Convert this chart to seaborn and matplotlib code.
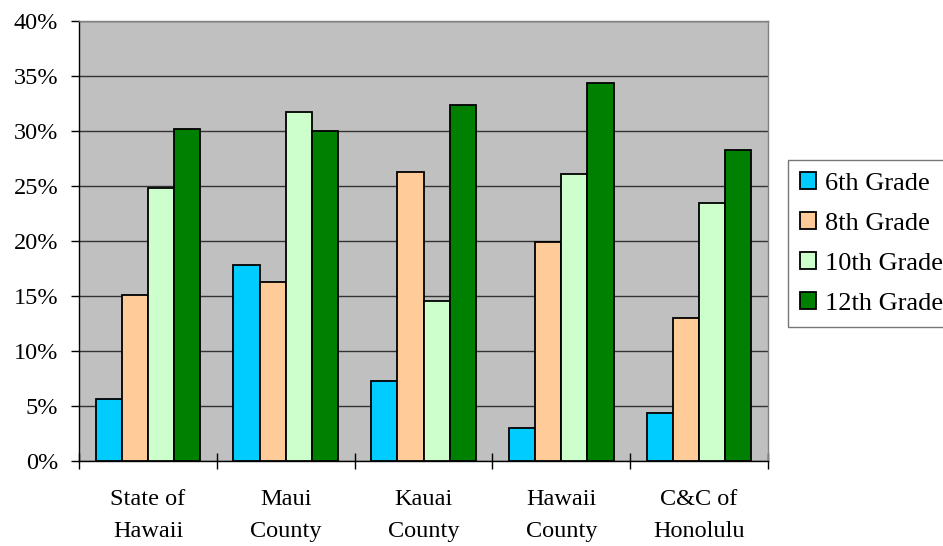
import matplotlib
matplotlib.use("Agg")
import matplotlib.pyplot as plt
from matplotlib.ticker import MultipleLocator, FuncFormatter, FixedLocator
import seaborn as sns
import pandas as pd

regions = ["State of\nHawaii", "Maui\nCounty", "Kauai\nCounty", "Hawaii\nCounty", "C&C of\nHonolulu"]
grades = ["6th Grade", "8th Grade", "10th Grade", "12th Grade"]
grade_6 = [5.7, 17.8, 7.3, 3.0, 4.4]
grade_8 = [15.1, 16.3, 26.3, 19.9, 13.0]
grade_10 = [24.8, 31.7, 14.6, 26.1, 23.5]
grade_12 = [30.2, 30.0, 32.4, 34.4, 28.3]
colors = ["#00CCFF", "#FFCC99", "#CCFFCC", "#008000"]

rows = []
for grade, vals in zip(grades, [grade_6, grade_8, grade_10, grade_12]):
    for region, v in zip(regions, vals):
        rows.append({"region": region, "grade": grade, "pct": v})
df = pd.DataFrame(rows)

sns.set_theme(style="white")
plt.rcParams["font.family"] = ["Liberation Serif", "DejaVu Serif"]
plt.rcParams["text.color"] = "black"

fig = plt.figure(figsize=(9.43, 5.46), dpi=100)
ax = fig.add_axes([0.0838, 0.1548, 0.7306, 0.8068])

sns.barplot(data=df, x="region", y="pct", hue="grade", order=regions,
            hue_order=grades, palette=colors, width=0.76, saturation=1,
            edgecolor="black", linewidth=1.3, ax=ax, zorder=3)

ax.set_facecolor("#C0C0C0")
ax.set_ylim(0, 40)
ax.set_xlim(-0.5, 4.5)
ax.yaxis.set_major_locator(MultipleLocator(5))
ax.yaxis.set_major_formatter(FuncFormatter(lambda v, p: f"{v:.0f}%"))
ax.grid(axis="y", color="#333333", linewidth=1.0, zorder=1)
ax.set_axisbelow(True)
ax.set_xlabel("")
ax.set_ylabel("")

for side in ["top", "right"]:
    ax.spines[side].set_color("#808080")
    ax.spines[side].set_linewidth(1.0)
for side in ["left", "bottom"]:
    ax.spines[side].set_color("black")
    ax.spines[side].set_linewidth(1.0)

ax.tick_params(axis="y", which="major", direction="out", length=6, width=1,
               color="black", labelsize=17.5, pad=9, left=True)
ax.tick_params(axis="x", which="major", length=0, labelsize=17.5, pad=20)
ax.xaxis.set_minor_locator(FixedLocator([-0.5, 0.5, 1.5, 2.5, 3.5, 4.5]))
ax.tick_params(axis="x", which="minor", direction="inout", length=11, width=1,
               color="black", bottom=True)
for lbl in ax.get_xticklabels():
    lbl.set_linespacing(1.65)
for lbl in ax.get_xticklabels() + ax.get_yticklabels():
    lbl.set_color("black")

handles, labels = ax.get_legend_handles_labels()
leg = ax.legend(handles, labels, loc="upper left", bbox_to_anchor=(0.836, 0.707),
                bbox_transform=fig.transFigure, frameon=True, fancybox=False,
                edgecolor="#555555", fontsize=19, handlelength=0.6,
                handleheight=0.6, handletextpad=0.32, labelspacing=0.66,
                borderpad=0.45, borderaxespad=0)
leg.get_frame().set_linewidth(1.0)
for t in leg.get_texts():
    t.set_color("black")

fig.savefig("out.png", dpi=100, facecolor="white")
